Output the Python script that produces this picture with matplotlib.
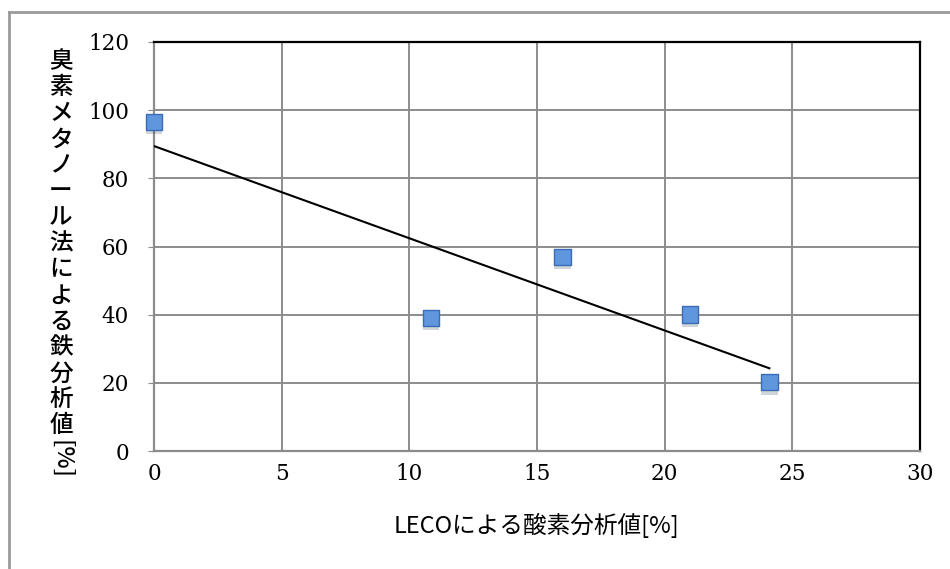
import numpy as np
from matplotlib import pyplot as plt
from matplotlib import patheffects as pe
from matplotlib.lines import Line2D

# data
leco_o = [0, 10.85, 16.0, 21.0, 24.1]
bromine_fe = [96.5, 39.0, 57.0, 40.0, 20.2]
x_ticks = [0, 5, 10, 15, 20, 25, 30]
y_ticks = [0, 20, 40, 60, 80, 100, 120]
x_label = 'LECOによる酸素分析値[%]'
y_label = '臭素メタノール法による鉄分析値'

jp = ['Noto Sans CJK JP', 'DejaVu Sans']
num_font = 'DejaVu Serif'

W, H = 950, 569
fig = plt.figure(figsize=(W / 100, H / 100), dpi=100)
ax = fig.add_axes([154 / W, 1 - 451 / H, (920 - 154) / W, (451 - 42) / H])

ax.set_xlim(0, 30)
ax.set_ylim(0, 120)
ax.set_xticks(x_ticks)
ax.set_yticks(y_ticks)
ax.grid(True, color='#8c8c8c', lw=1.4)
ax.set_axisbelow(True)

for s in ['top', 'right']:
    ax.spines[s].set_color('black')
    ax.spines[s].set_linewidth(1.6)
for s in ['left', 'bottom']:
    ax.spines[s].set_color('#8c8c8c')
    ax.spines[s].set_linewidth(1.6)

ax.tick_params(axis='x', length=0, pad=9, labelsize=15.5)
ax.tick_params(axis='y', length=4, color='#8c8c8c', pad=14, labelsize=15.5)
for lab in ax.get_xticklabels() + ax.get_yticklabels():
    lab.set_fontfamily(num_font)

# linear trend line over the data range
k, b = np.polyfit(leco_o, bromine_fe, 1)
xs = np.array([min(leco_o), max(leco_o)])
ax.plot(xs, k * xs + b, color='black', lw=1.5, zorder=3)

ax.scatter(leco_o, bromine_fe, marker='s', s=140, color='#6096de',
           edgecolors='#3b6cb8', linewidths=1.0, zorder=4, clip_on=False,
           path_effects=[pe.SimplePatchShadow(offset=(0, -3), alpha=0.2),
                         pe.Normal()])

ax.set_xlabel(x_label, family=jp, fontsize=17, labelpad=20)

# vertical japanese y label, one char per row
cx = 61 / W
for i, ch in enumerate(y_label):
    fig.text(cx, 1 - (62 + 26 * i) / H, ch, family=jp, fontsize=17,
             fontweight='medium', ha='center', va='center')
fig.text(cx, 1 - 460 / H, '[%]', family=jp, fontsize=17, rotation=-90,
         fontweight='medium', ha='center', va='center')

# outer chart border (cut off at bottom and right)
fig.add_artist(Line2D([9 / W, 9 / W], [1 - 12 / H, 0], color='#9a9a9a', lw=2))
fig.add_artist(Line2D([9 / W, 1], [1 - 12 / H, 1 - 12 / H], color='#9a9a9a', lw=2))

fig.savefig('out.png', dpi=100)
